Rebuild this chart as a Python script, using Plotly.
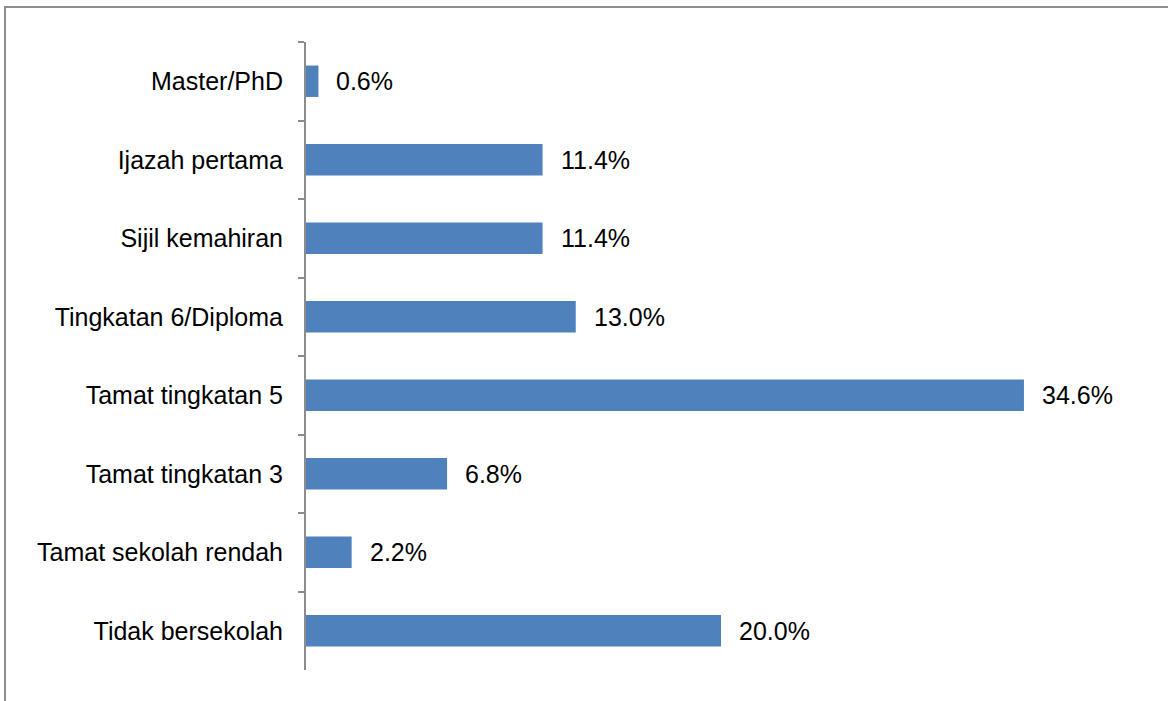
import plotly.graph_objects as go

categories = [
    "Master/PhD",
    "Ijazah pertama",
    "Sijil kemahiran",
    "Tingkatan 6/Diploma",
    "Tamat tingkatan 5",
    "Tamat tingkatan 3",
    "Tamat sekolah rendah",
    "Tidak bersekolah",
]
values = [0.6, 11.4, 11.4, 13.0, 34.6, 6.8, 2.2, 20.0]
value_labels = ["0.6%", "11.4%", "11.4%", "13.0%", "34.6%", "6.8%", "2.2%", "20.0%"]

FONT = "Liberation Sans, Arial, sans-serif"
W, H = 1168, 701
L, T = 306, 42
PW, PH = 830, 628

fig = go.Figure()
fig.add_trace(go.Bar(
    x=values, y=categories, orientation="h",
    marker=dict(color="#4F81BD", line=dict(width=0)),
    width=0.4, hoverinfo="skip",
))

for v, c, lab in zip(values, categories, value_labels):
    fig.add_annotation(x=v, y=c, text=lab, showarrow=False, xanchor="left",
                       yanchor="middle", xshift=16,
                       font=dict(family=FONT, size=25, color="#000000"))

# outer chart border
fig.add_shape(type="rect", xref="paper", yref="paper",
              x0=(5 - L) / PW, x1=(W + 20 - L) / PW,
              y0=(T + PH - (H + 20)) / PH, y1=(T + PH - 7) / PH,
              line=dict(color="#8E8E8E", width=2), fillcolor="rgba(0,0,0,0)", layer="below")

fig.update_layout(
    width=W, height=H,
    margin=dict(l=L, r=W - L - PW, t=T, b=H - T - PH),
    paper_bgcolor="white", plot_bgcolor="white",
    showlegend=False,
    xaxis=dict(range=[0, 40], visible=False, showgrid=False, zeroline=False),
    yaxis=dict(
        categoryorder="array", categoryarray=categories, autorange="reversed",
        showline=True, linecolor="#8C8C8C", linewidth=2,
        ticks="outside", ticklen=6, tickcolor="#8C8C8C", tickwidth=2,
        tickson="boundaries", ticklabelstandoff=16,
        tickfont=dict(family=FONT, size=25, color="#000000"),
        showgrid=False, zeroline=False,
    ),
)

fig.write_html("out.html", config={"displayModeBar": False},
               post_script="document.body.style.margin='0';")
